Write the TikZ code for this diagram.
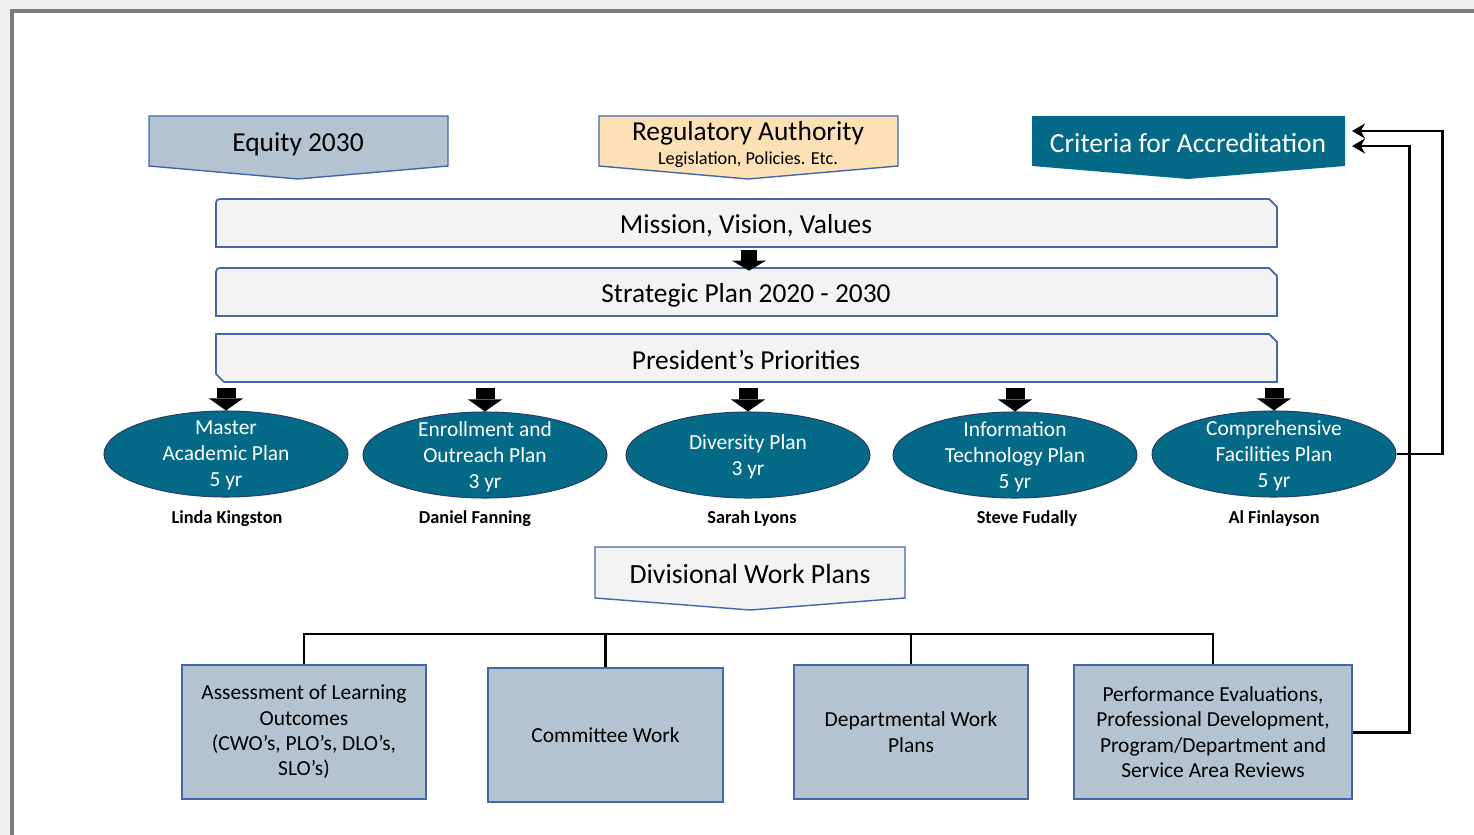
\documentclass[tikz,border=0pt]{standalone}
\usepackage{fontspec}
\setmainfont{Carlito}
\usetikzlibrary{shapes.geometric,arrows.meta}

\definecolor{framegray}{HTML}{807B78}
\definecolor{outgray}{HTML}{EFEFEF}
\definecolor{edgeblue}{HTML}{4467AA}
\definecolor{slate}{HTML}{B4C3D1}
\definecolor{peach}{HTML}{FCE1B7}
\definecolor{planteal}{HTML}{046A87}
\definecolor{barfill}{HTML}{F3F3F3}

\tikzset{
  banner/.style={draw=edgeblue, line width=0.8pt},
  bar/.style={draw=edgeblue, fill=barfill, line width=1pt},
  bartext/.style={minimum width=21.22cm, minimum height=0.96cm, inner sep=0pt, font=\fontsize{15.6}{18}\selectfont},
  plan/.style={ellipse, draw=edgeblue!60!black, fill=planteal, line width=0.6pt, minimum width=4.88cm, minimum height=1.72cm, inner sep=0pt},
  plantext/.style={text=white, align=center, yshift=-0.03cm, font=\fontsize{12.2}{14.7}\selectfont},
  lead/.style={font=\bfseries\fontsize{10.4}{12}\selectfont},
  workbox/.style={draw=edgeblue, fill=slate, line width=0.8pt, align=center, minimum height=2.68cm, inner sep=0pt, font=\fontsize{12.2}{14.4}\selectfont},
  bigarrow/.style={line width=0.38cm, -{Triangle[length=0.24cm, width=0.68cm, line width=0pt]}},
  midarrow/.style={line width=0.32cm, -{Triangle[length=0.2cm, width=0.68cm, line width=0pt]}},
  link/.style={line width=1.2pt},
  feedback/.style={line width=1.7pt, -{Stealth[length=0.26cm, width=0.3cm]}},
}

\begin{document}
\begin{tikzpicture}[x=0.02cm, y=-0.02cm]
\useasboundingbox (0,0) rectangle (1474,835);
\begin{scope}
\clip (0,0) rectangle (1474,835);
\fill[outgray] (0,0) rectangle (1474,835);
\path[draw=framegray, fill=white, line width=0.08cm] (12,11) rectangle (1500,860);
\end{scope}

% top banners
\path[banner, fill=slate] (149,116) -- (448,116) -- (448,166) -- (298,179) -- (149,166) -- cycle;
\path[banner, fill=peach] (599,116) -- (898,116) -- (898,166) -- (748,179) -- (599,166) -- cycle;
\path[fill=planteal] (1032,116) -- (1345,116) -- (1345,166) -- (1188,179) -- (1032,166) -- cycle;

\node (equity) at (298,144) {\fontsize{15.6}{18}\selectfont Equity 2030};
\node (regauth) at (748,133) {\fontsize{15.6}{18}\selectfont Regulatory Authority};
\node (regsub) at (748,160) {\fontsize{10.4}{12}\selectfont Legislation, Policies. Etc.};
\node[text=white] (crit) at (1188,143) {\fontsize{15.7}{18}\selectfont Criteria for Accreditation};
\coordinate (critA) at (1352,131);
\coordinate (critB) at (1352,146);

% bars
\path[bar] (216,247) -- (216,207) .. controls (216,199) .. (224,199) -- (1269,199) -- (1277,207) -- (1277,247) -- cycle;
\path[bar] (216,316) -- (216,276) .. controls (216,268) .. (224,268) -- (1269,268) -- (1277,276) -- (1277,316) -- cycle;
\path[bar] (216,334) -- (1269,334) -- (1277,342) -- (1277,382) -- (224,382) -- (216,374) -- cycle;

\node[bartext] (mission) at (746,226) {Mission, Vision, Values};
\node[bartext] (strategic) at (746,295) {Strategic Plan 2020 - 2030};
\node[bartext] (president) at (746,360) {President’s Priorities};

\path[draw, midarrow] (mission.south -| 749,0) -- (strategic.north -| 749,0);

% plans
\node[plan, label={[plantext]center:{Master\\Academic Plan\\5 yr}}] (mplan) at (226,454) {};
\node[plan, label={[plantext]center:{Enrollment and\\Outreach Plan\\3 yr}}] (eplan) at (485,455) {};
\node[plan, label={[plantext]center:{Diversity Plan\\3 yr}}] (dplan) at (748,455) {};
\node[plan, label={[plantext]center:{Information\\Technology Plan\\5 yr}}] (itplan) at (1015,455) {};
\node[plan, label={[plantext]center:{Comprehensive\\Facilities Plan\\5 yr}}] (cfplan) at (1274,454) {};

\node[lead] (kingston) at (227,519) {Linda Kingston};
\node[lead] (fanning) at (475,519) {Daniel Fanning};
\node[lead] (lyons) at (752,519) {Sarah Lyons};
\node[lead] (fudally) at (1027,519) {Steve Fudally};
\node[lead] (finlayson) at (1274,519) {Al Finlayson};

\foreach \p in {mplan, eplan, dplan, itplan, cfplan}
  \path[draw, bigarrow] (\p.north |- 0,388) -- (\p.north);

% divisional work plans
\path[banner, fill=barfill] (595,547) -- (905,547) -- (905,598) -- (750,610) -- (595,598) -- cycle;
\node (divplans) at (750,574) {\fontsize{15.8}{18}\selectfont Divisional Work Plans};

\node[workbox, minimum width=4.88cm] (asmt) at (304,732) {Assessment of Learning\\Outcomes\\(CWO’s, PLO’s, DLO’s,\\SLO’s)};
\node[workbox, minimum width=4.70cm] (cmte) at (605.5,735) {Committee Work};
\node[workbox, minimum width=4.68cm] (dept) at (911,732) {Departmental Work\\Plans};
\node[workbox, minimum width=5.56cm] (perf) at (1213,732) {Performance Evaluations,\\Professional Development,\\Program/Department and\\Service Area Reviews};

\path[draw, link] (asmt.north) -- (asmt.north |- 0,634) -| (perf.north);
\path[draw, link] (cmte.north) -- (cmte.north |- 0,634);
\path[draw, link] (dept.north) -- (dept.north |- 0,634);

% feedback to accreditation
\path[draw, feedback] (perf.east) -| (1409,146) -- (critB);
\path[draw, feedback] (cfplan.east) -| (1442,131) -- (critA);
\end{tikzpicture}
\end{document}
